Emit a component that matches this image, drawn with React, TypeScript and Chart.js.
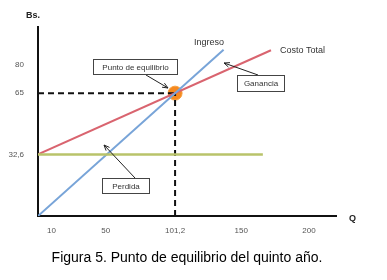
import React, { useEffect, useRef } from "react";
import { Chart, registerables } from "chart.js";

Chart.register(...registerables);

// ---- data ----
const equilibriumQ = 101.2;
const equilibriumBs = 65;

const ingresoQ = [0, 137];
const ingresoBs = [0, 88];

const costoTotalQ = [0, 172];
const costoTotalBs = [32.6, 87.7];

const costoFijoQ = [0, 166];
const costoFijoBs = [32.6, 32.6];

const xTickValues = [10, 50, 101.2, 150, 200];
const yTickValues = [32.6, 65, 80];

const caption = "Figura 5. Punto de equilibrio del quinto año.";

const fmt = (v: number) => String(v).replace(".", ",");
const pts = (xs: number[], ys: number[]) => xs.map((x, i) => ({ x, y: ys[i] }));

function arrow(ctx: CanvasRenderingContext2D, x1: number, y1: number, x2: number, y2: number) {
  ctx.save();
  ctx.strokeStyle = "#222";
  ctx.lineWidth = 1;
  ctx.beginPath();
  ctx.moveTo(x1, y1);
  ctx.lineTo(x2, y2);
  ctx.stroke();
  const a = Math.atan2(y2 - y1, x2 - x1);
  const L = 6;
  ctx.beginPath();
  ctx.moveTo(x2, y2);
  ctx.lineTo(x2 - L * Math.cos(a - 0.4), y2 - L * Math.sin(a - 0.4));
  ctx.moveTo(x2, y2);
  ctx.lineTo(x2 - L * Math.cos(a + 0.4), y2 - L * Math.sin(a + 0.4));
  ctx.stroke();
  ctx.restore();
}

function box(ctx: CanvasRenderingContext2D, x: number, y: number, w: number, h: number, text: string) {
  ctx.save();
  ctx.fillStyle = "#fff";
  ctx.fillRect(x, y, w, h);
  ctx.strokeStyle = "#444";
  ctx.lineWidth = 1;
  ctx.strokeRect(x + 0.5, y + 0.5, w, h);
  ctx.fillStyle = "#333";
  ctx.font = "8px 'Liberation Sans', Arial, sans-serif";
  ctx.textAlign = "center";
  ctx.textBaseline = "middle";
  ctx.fillText(text, x + w / 2 + 0.5, y + h / 2 + 1);
  ctx.restore();
}

const annotations = {
  id: "annotations",
  afterDatasetsDraw(chart: any) {
    const ctx = chart.ctx as CanvasRenderingContext2D;
    const a = chart.chartArea;
    ctx.save();
    ctx.fillStyle = "#222";
    ctx.font = "bold 9px 'Liberation Sans', Arial, sans-serif";
    ctx.textAlign = "left";
    ctx.textBaseline = "middle";
    ctx.fillText("Bs.", a.left - 12, 16);
    ctx.fillText("Q", a.right + 13, a.bottom + 3);
    ctx.font = "9px 'Liberation Sans', Arial, sans-serif";
    ctx.fillStyle = "#333";
    ctx.fillText("Ingreso", 194, 43);
    ctx.fillText("Costo Total", 280, 51);

    ctx.font = "14px 'Liberation Sans', Arial, sans-serif";
    ctx.fillStyle = "#000";
    ctx.textAlign = "center";
    ctx.fillText(caption, 187, 258);
    ctx.restore();

    arrow(ctx, 146, 75, 168, 88);
    box(ctx, 93, 59, 84, 15, "Punto de equilibrio");
    arrow(ctx, 258, 75, 224, 63);
    box(ctx, 237, 75, 47, 16, "Ganancia");
    arrow(ctx, 135, 178, 104, 145);
    box(ctx, 102, 178, 47, 15, "Perdida");
  },
};

export default function App() {
  const ref = useRef<HTMLCanvasElement>(null);
  useEffect(() => {
    if (!ref.current) return;
    const chart = new Chart(ref.current, {
      type: "line",
      data: {
        datasets: [
          {
            label: "Costo fijo",
            data: pts(costoFijoQ, costoFijoBs),
            borderColor: "#b9c36a",
            borderWidth: 2.5,
            pointRadius: 0,
          },
          {
            label: "Ingreso",
            data: pts(ingresoQ, ingresoBs),
            borderColor: "#78a4d8",
            borderWidth: 2,
            pointRadius: 0,
          },
          {
            label: "Costo Total",
            data: pts(costoTotalQ, costoTotalBs),
            borderColor: "#d9646f",
            borderWidth: 2,
            pointRadius: 0,
          },
          {
            label: "h",
            data: [
              { x: 0, y: equilibriumBs },
              { x: equilibriumQ, y: equilibriumBs },
            ],
            borderColor: "#111",
            borderWidth: 2,
            borderDash: [6, 4],
            pointRadius: 0,
          },
          {
            label: "v",
            data: [
              { x: equilibriumQ, y: 0 },
              { x: equilibriumQ, y: equilibriumBs },
            ],
            borderColor: "#111",
            borderWidth: 2,
            borderDash: [6, 4],
            pointRadius: 0,
          },
          {
            label: "Punto de equilibrio",
            data: [{ x: equilibriumQ, y: equilibriumBs }],
            showLine: false,
            pointRadius: 7,
            pointBackgroundColor: "#f6891f",
            pointBorderColor: "#f6a040",
            pointBorderWidth: 1,
          },
        ],
      },
      options: {
        animation: false,
        responsive: false,
        events: [],
        layout: { padding: { left: 0, right: 51, top: 27, bottom: 0 } },
        plugins: {
          legend: { display: false },
          tooltip: { enabled: false },
          title: { display: false },
        },
        scales: {
          x: {
            type: "linear",
            min: 0,
            max: 220,
            grid: { display: false, drawTicks: false },
            border: { display: true, color: "#111", width: 2 },
            afterBuildTicks: (s: any) => {
              s.ticks = xTickValues.map((v) => ({ value: v }));
            },
            afterFit: (s: any) => {
              s.height = 64;
            },
            ticks: {
              callback: (v: any) => fmt(Number(v)),
              color: "#555",
              font: { family: "'Liberation Sans', Arial, sans-serif", size: 8 },
              padding: 10,
              maxRotation: 0,
              autoSkip: false,
            },
          },
          y: {
            type: "linear",
            min: 0,
            max: 100,
            grid: { display: false, drawTicks: false },
            border: { display: true, color: "#111", width: 2 },
            afterBuildTicks: (s: any) => {
              s.ticks = yTickValues.map((v) => ({ value: v }));
            },
            afterFit: (s: any) => {
              s.width = 38;
            },
            ticks: {
              callback: (v: any) => fmt(Number(v)),
              color: "#555",
              font: { family: "'Liberation Sans', Arial, sans-serif", size: 8 },
              padding: 14,
              autoSkip: false,
            },
          },
        },
      },
      plugins: [annotations],
    });
    return () => chart.destroy();
  }, []);
  return (
    <div style={{ position: "absolute", left: 0, top: 0, width: 387, height: 280, background: "#fff" }}>
      <canvas ref={ref} width={387} height={280} style={{ width: 387, height: 280 }} />
    </div>
  );
}
